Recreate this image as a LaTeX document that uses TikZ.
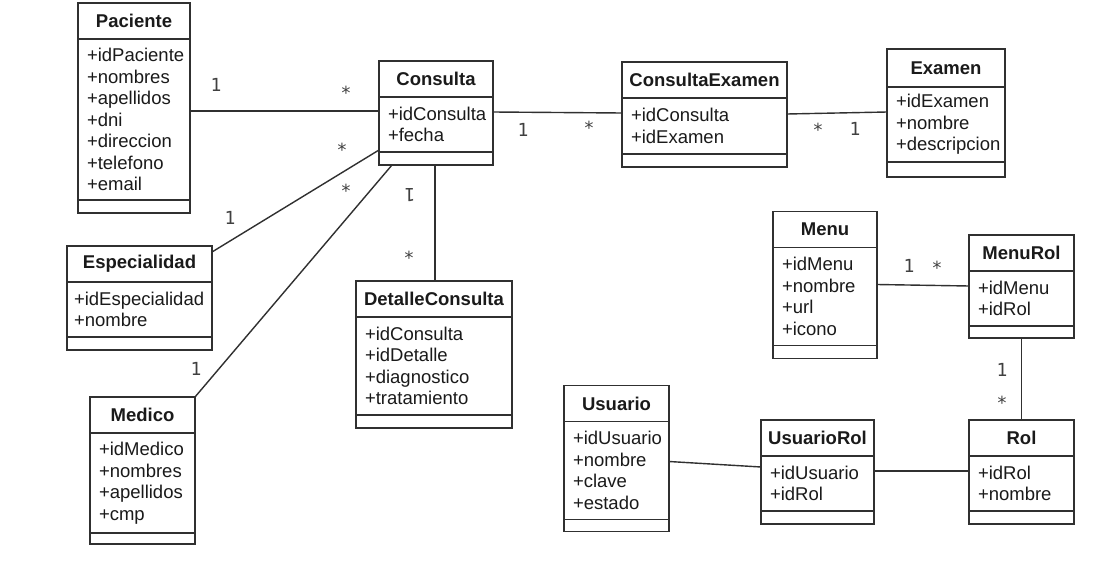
\documentclass[tikz,border=0pt]{standalone}
\usepackage{fontspec}
\setmainfont{Liberation Sans}
\newfontfamily\multfont{DejaVu Sans Mono}
\usetikzlibrary{positioning}

\definecolor{umlline}{HTML}{303030}
\definecolor{umltext}{HTML}{1A1A1A}
\definecolor{multgray}{HTML}{404040}
\newcommand\attrfont{\fontsize{18.5}{21.5}\selectfont\hyphenpenalty=10000\relax}
\newcommand\titlefont{\fontsize{18.5}{21.5}\selectfont\bfseries}

\tikzset{
	ctitle/.style={draw=umlline, line width=1.4pt, minimum height=36pt, inner sep=0pt, outer sep=0pt, font=\titlefont, text=umltext},
	cattr/.style 2 args={draw=umlline, line width=1.4pt, text width=#1, minimum height=#2, inner xsep=9pt, inner ysep=2pt, outer sep=0pt, align=left, font=\attrfont, text=umltext},
	cfoot/.style={draw=umlline, line width=1.4pt, minimum height=13pt, inner sep=0pt, outer sep=0pt},
	mult/.style={font=\multfont\fontsize{18}{20}\selectfont, text=multgray, inner sep=0pt},
	assoc/.style={draw=umlline, line width=1.4pt}
}

\begin{document}
\begin{tikzpicture}[x=1pt, y=-1pt]
	\fill[white] (0,0) rectangle (1107,575);
	\useasboundingbox (0,0) rectangle (1107,575);

	% clases
	\node[ctitle, minimum width=112] (pac) at (134,21) {Paciente};
	\node[cattr={94}{161}, below=0pt of pac] (paca) {+idPaciente\\+nombres\\+apellidos\\+dni\\+direccion\\+telefono\\+email};
	\node[cfoot, minimum width=112, below=0pt of paca] (pacf) {};

	\node[ctitle, minimum width=114] (con) at (436,79) {Consulta};
	\node[cattr={96}{55}, below=0pt of con] (cona) {+idConsulta\\+fecha};
	\node[cfoot, minimum width=114, below=0pt of cona] (conf) {};

	\node[ctitle, minimum width=165] (conex) at (704.5,80) {ConsultaExamen};
	\node[cattr={147}{56}, below=0pt of conex] (conexa) {+idConsulta\\+idExamen};
	\node[cfoot, minimum width=165, below=0pt of conexa] (conexf) {};

	\node[ctitle, minimum width=118, minimum height=38pt] (exa) at (946,68) {Examen};
	\node[cattr={100}{75}, below=0pt of exa] (exaa) {+idExamen\\+nombre\\+descripcion};
	\node[cfoot, minimum width=118, minimum height=15pt, below=0pt of exaa] (exaf) {};

	\node[ctitle, minimum width=145] (esp) at (139.5,264) {Especialidad};
	\node[cattr={131}{55}, below=0pt of esp, inner xsep=7pt] (espa) {+idEspecialidad\\+nombre};
	\node[cfoot, minimum width=145, below=0pt of espa] (espf) {};

	\node[ctitle, minimum width=105] (med) at (142.5,415) {Medico};
	\node[cattr={87}{100}, below=0pt of med] (meda) {+idMedico\\+nombres\\+apellidos\\+cmp};
	\node[cfoot, minimum width=105, minimum height=11pt, below=0pt of meda] (medf) {};

	\node[ctitle, minimum width=156] (det) at (434,299) {DetalleConsulta};
	\node[cattr={138}{98}, below=0pt of det] (deta) {+idConsulta\\+idDetalle\\+diagnostico\\+tratamiento};
	\node[cfoot, minimum width=156, below=0pt of deta] (detf) {};

	\node[ctitle, minimum width=104] (men) at (825,229.5) {Menu};
	\node[cattr={86}{98}, below=0pt of men] (mena) {+idMenu\\+nombre\\+url\\+icono};
	\node[cfoot, minimum width=104, below=0pt of mena] (menf) {};

	\node[ctitle, minimum width=105] (menr) at (1021.5,253) {MenuRol};
	\node[cattr={87}{55}, below=0pt of menr] (menra) {+idMenu\\+idRol};
	\node[cfoot, minimum width=105, minimum height=12pt, below=0pt of menra] (menrf) {};

	\node[ctitle, minimum width=105] (usu) at (616.5,403.5) {Usuario};
	\node[cattr={87}{98}, below=0pt of usu] (usua) {+idUsuario\\+nombre\\+clave\\+estado};
	\node[cfoot, minimum width=105, minimum height=12pt, below=0pt of usua] (usuf) {};

	\node[ctitle, minimum width=113] (usur) at (817.5,438) {UsuarioRol};
	\node[cattr={95}{55}, below=0pt of usur] (usura) {+idUsuario\\+idRol};
	\node[cfoot, minimum width=113, below=0pt of usura] (usurf) {};

	\node[ctitle, minimum width=105] (rol) at (1021.5,438) {Rol};
	\node[cattr={87}{55}, below=0pt of rol] (rola) {+idRol\\+nombre};
	\node[cfoot, minimum width=105, below=0pt of rola] (rolf) {};

	% asociaciones
	\draw[assoc] ([yshift=8.5pt]paca.east) -- ([yshift=13.5pt]cona.west);
	\draw[assoc] ([yshift=12.5pt]cona.east) -- ([yshift=13pt]conexa.west);
	\draw[assoc] ([yshift=12pt]conexa.east) -- ([yshift=12.5pt]exaa.west);
	\draw[assoc] ([yshift=12pt]esp.east) -- ([yshift=2pt]cona.south west);
	\draw[assoc] (med.north east) -- ([xshift=13pt]conf.south west);
	\draw[assoc] ([xshift=1pt]det.north) -- ([xshift=1pt]det.north |- conf.south);
	\draw[assoc] ([yshift=12pt]mena.east) -- ([yshift=12.5pt]menra.west);
	\draw[assoc] (menrf.south) -- (rol.north);
	\draw[assoc] ([yshift=9pt]usua.east) -- ([yshift=16.5pt]usura.west);
	\draw[assoc] ([yshift=12.5pt]usura.east) -- ([yshift=12.5pt]rola.west);

	% multiplicidades
	\node[mult] (m1a) at (216,85) {1};
	\node[mult] (m1b) at (346,93) {*};
	\node[mult] (m2a) at (523,130) {1};
	\node[mult] (m2b) at (589,128) {*};
	\node[mult] (m3a) at (818,130) {*};
	\node[mult] (m3b) at (855,129) {1};
	\node[mult] (m4a) at (230,218) {1};
	\node[mult] (m4b) at (342,150) {*};
	\node[mult] (m5a) at (196,369) {1};
	\node[mult] (m5b) at (346,191) {*};
	\node[mult, rotate=180] (m6a) at (410,195) {1};
	\node[mult] (m6b) at (409,258) {*};
	\node[mult] (m7a) at (909,266) {1};
	\node[mult] (m7b) at (937,268) {*};
	\node[mult] (m8a) at (1002,370) {1};
	\node[mult] (m8b) at (1002,403) {*};
\end{tikzpicture}
\end{document}
